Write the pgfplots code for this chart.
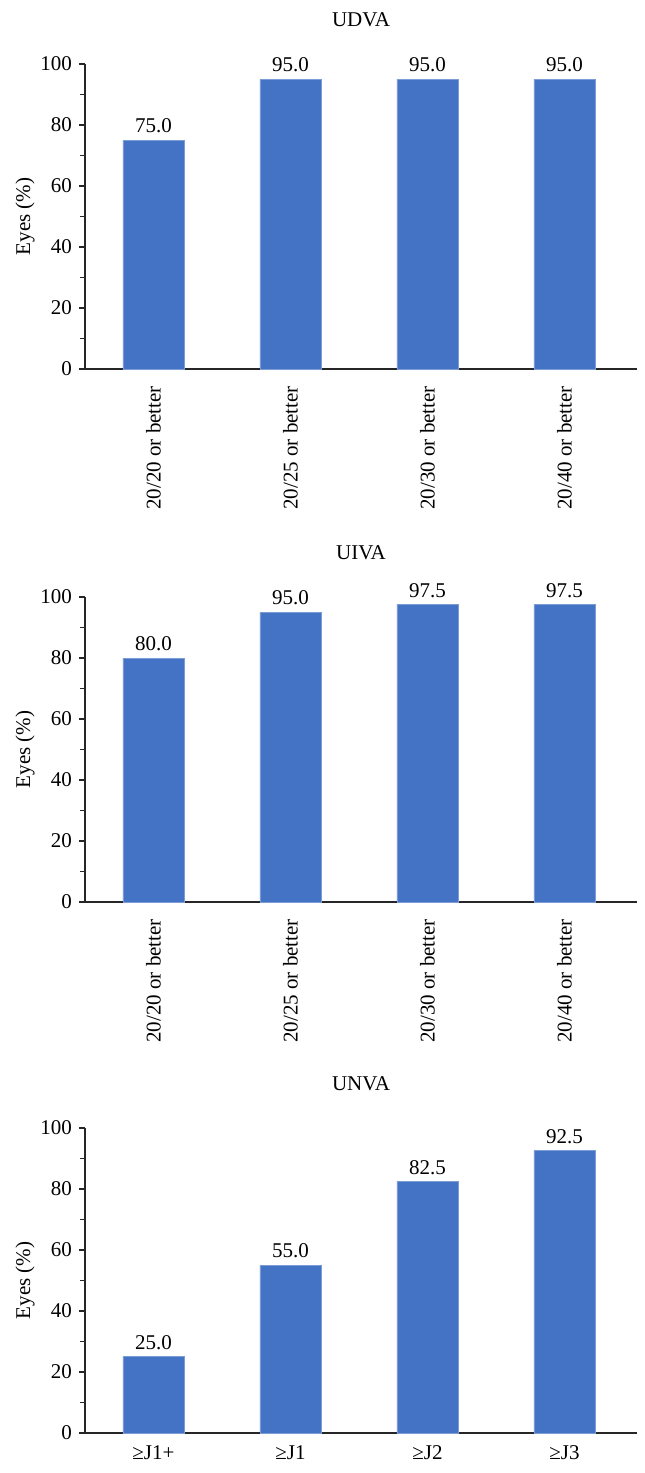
\documentclass[border=0pt]{standalone}
\usepackage{fontspec}
\setmainfont{Liberation Serif}
\usepackage{pgfplots}
\pgfplotsset{compat=1.18}
\definecolor{barblue}{HTML}{4472C4}
\pgfkeys{/pgf/number format/assume math mode=true}
\pgfplotsset{
  panel/.style={
    scale only axis,
    width=276pt, height=152.5pt,
    xmin=-0.5, xmax=3.53, ymin=0, ymax=100,
    axis x line*=bottom, axis y line*=left,
    axis line style={black!85, line width=0.7pt},
    ytick={0,20,40,60,80,100},
    minor ytick={10,30,50,70,90},
    tick align=outside,
    major tick length=3pt, minor tick length=2.5pt,
    ytick style={black!85, line width=0.6pt},
    minor tick style={black!85, line width=0.6pt},
    xtick={0,1,2,3},
    xtick style={draw=none},
    ticklabel style={font=\fontsize{10.5}{12}\selectfont},
    yticklabel style={/pgf/number format/assume math mode=true},
    ylabel={Eyes (\%)},
    ylabel style={at={(axis description cs:-0.1087,0.5)}, anchor=center, font=\fontsize{10.5}{12}\selectfont},
    title style={at={(axis description cs:0.5,1)}, anchor=center, yshift=16pt, font=\fontsize{10.5}{12}\selectfont},
    ybar, bar width=30.5pt,
    nodes near coords,
    nodes near coords style={font=\fontsize{10.5}{12}\selectfont,
      /pgf/number format/fixed, /pgf/number format/fixed zerofill,
      /pgf/number format/precision=1, /pgf/number format/assume math mode=true},
  }
}
\begin{document}
\begin{tikzpicture}
\useasboundingbox (0,0) rectangle (322pt,-736.5pt);
% Panel 1: UDVA
\begin{axis}[panel, at={(42.5pt,-184.5pt)}, anchor=south west,
  title={UDVA},
  xticklabels={20/20 or better,20/25 or better,20/30 or better,20/40 or better},
  xticklabel style={rotate=90, anchor=east, xshift=-2pt}]
\addplot[fill=barblue, draw=barblue!70!white] coordinates {(0,75.0) (1,95.0) (2,95.0) (3,95.0)};
\end{axis}
% Panel 2: UIVA
\begin{axis}[panel, at={(42.5pt,-451pt)}, anchor=south west,
  title={UIVA},
  xticklabels={20/20 or better,20/25 or better,20/30 or better,20/40 or better},
  xticklabel style={rotate=90, anchor=east, xshift=-2pt}]
\addplot[fill=barblue, draw=barblue!70!white] coordinates {(0,80.0) (1,95.0) (2,97.5) (3,97.5)};
\end{axis}
% Panel 3: UNVA
\begin{axis}[panel, at={(42.5pt,-716.5pt)}, anchor=south west,
  title={UNVA},
  xticklabels={≥J1+,≥J1,≥J2,≥J3}]
\addplot[fill=barblue, draw=barblue!70!white] coordinates {(0,25.0) (1,55.0) (2,82.5) (3,92.5)};
\end{axis}
\end{tikzpicture}
\end{document}
